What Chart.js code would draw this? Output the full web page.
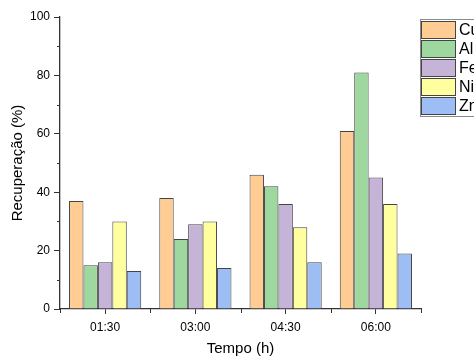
<!DOCTYPE html>
<html>
<head>
<meta charset="utf-8">
<script src="https://cdn.jsdelivr.net/npm/chart.js@4/dist/chart.umd.min.js"></script>
<style>
html,body{margin:0;padding:0;background:#fff;overflow:hidden;}
canvas{display:block;}
</style>
</head>
<body>
<canvas id="c" width="474" height="356"></canvas>
<script>
const categories = ['01:30', '03:00', '04:30', '06:00'];
const seriesNames = ['Cu', 'Al', 'Fe', 'Ni', 'Zn'];
const cuValues = [37, 38, 46, 61];
const alValues = [15, 24, 42, 81];
const feValues = [16, 29, 36, 45];
const niValues = [30, 30, 28, 36];
const znValues = [13, 14, 16, 19];
const yTicks = [0, 20, 40, 60, 80, 100];
const yMinorTicks = [10, 30, 50, 70, 90];

const seriesValues = [cuValues, alValues, feValues, niValues, znValues];
const seriesColors = ['#FFCC94', '#9ED89E', '#C6B4D8', '#FFFFA0', '#9DBDF5'];

const FONT = 'Arial, "Liberation Sans", sans-serif';

const minorTicksPlugin = {
  id: 'minorTicks',
  afterDraw(chart) {
    const ctx = chart.ctx;
    const x = chart.scales.x, y = chart.scales.y;
    const ca = chart.chartArea;
    ctx.save();
    ctx.strokeStyle = '#333';
    ctx.lineWidth = 1;
    ctx.beginPath();
    yMinorTicks.forEach(v => {
      const py = Math.round(y.getPixelForValue(v)) + 0.5;
      ctx.moveTo(ca.left - 3, py);
      ctx.lineTo(ca.left, py);
    });
    for (let i = 0; i <= categories.length; i++) {
      const px = Math.round(x.getPixelForValue(i - 0.5)) + 0.5;
      ctx.moveTo(px, ca.bottom);
      ctx.lineTo(px, ca.bottom + 4);
    }
    ctx.stroke();
    ctx.restore();
  }
};

const boxLegendPlugin = {
  id: 'boxLegend',
  afterDraw(chart) {
    const ctx = chart.ctx;
    const left = 420.5, top = 19.5, rowH = 19, sw = 34, sh = 17;
    const n = chart.data.datasets.length;
    ctx.save();
    ctx.fillStyle = '#fff';
    ctx.fillRect(left, top, 80, n * rowH + 2);
    ctx.strokeStyle = '#8a8a8a';
    ctx.lineWidth = 1;
    ctx.strokeRect(left, top, 80, n * rowH + 2);
    ctx.font = '16px ' + FONT;
    ctx.textBaseline = 'middle';
    ctx.textAlign = 'left';
    chart.data.datasets.forEach((ds, i) => {
      const ty = top + 2 + i * rowH;
      ctx.fillStyle = ds.backgroundColor;
      ctx.fillRect(left + 1, ty, sw, sh);
      ctx.strokeStyle = '#444';
      ctx.strokeRect(left + 1, ty, sw, sh);
      ctx.fillStyle = '#000';
      ctx.fillText(ds.label, left + 38.5, ty + sh / 2 + 1);
    });
    ctx.restore();
  }
};

new Chart(document.getElementById('c'), {
  type: 'bar',
  data: {
    labels: categories,
    datasets: seriesNames.map((name, i) => ({
      label: name,
      data: seriesValues[i],
      backgroundColor: seriesColors[i],
      borderColor: '#444',
      borderWidth: 1,
      categoryPercentage: 0.8,
      barPercentage: 1.0
    }))
  },
  options: {
    responsive: false,
    animation: false,
    devicePixelRatio: 1,
    layout: { padding: { top: 17, right: 53, left: 0, bottom: 0 } },
    plugins: { legend: { display: false }, tooltip: { enabled: false } },
    scales: {
      x: {
        offset: true,
        grid: { display: true, drawOnChartArea: false, offset: false, drawTicks: true, tickLength: 5, tickColor: '#333', tickWidth: 1 },
        border: { display: true, color: '#333', width: 1.3 },
        ticks: { color: '#000', font: { family: FONT, size: 12 }, padding: 6, maxRotation: 0 },
        title: { display: true, text: 'Tempo (h)', color: '#000', font: { family: FONT, size: 15, lineHeight: 1.0 }, padding: { top: 0, bottom: 0 } },
        afterFit(s) { s.height = 47; }
      },
      y: {
        min: 0, max: 100,
        afterBuildTicks(s) { s.ticks = yTicks.map(v => ({ value: v })); },
        grid: { display: true, drawOnChartArea: false, drawTicks: true, tickLength: 6, tickColor: '#333', tickWidth: 1 },
        border: { display: true, color: '#333', width: 1.3 },
        ticks: { color: '#000', font: { family: FONT, size: 12 }, padding: 4 },
        title: { display: true, text: 'Recuperação (%)', color: '#000', font: { family: FONT, size: 15 }, padding: { top: 9, bottom: 0 } },
        afterFit(s) { s.width = 60; }
      }
    }
  },
  plugins: [minorTicksPlugin, boxLegendPlugin]
});
</script>
</body>
</html>
